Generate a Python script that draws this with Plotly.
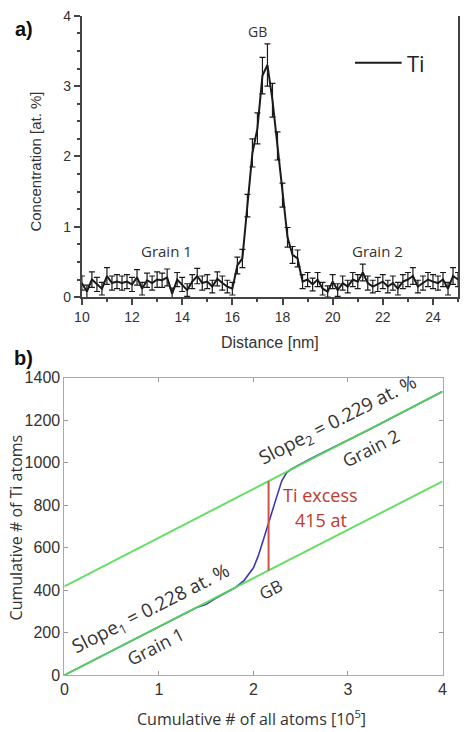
import plotly.graph_objects as go

# ---- Panel a: Ti concentration profile ----
distance_nm = [10.0, 10.2, 10.4, 10.6, 10.8, 11.0, 11.2, 11.4, 11.6, 11.8,
               12.0, 12.2, 12.4, 12.6, 12.8, 13.0, 13.2, 13.4, 13.6, 13.8,
               14.0, 14.2, 14.4, 14.6, 14.8, 15.0, 15.2, 15.4, 15.6, 15.8,
               16.0, 16.2, 16.4, 16.6, 16.8, 17.0, 17.2, 17.4, 17.6, 17.8,
               18.0, 18.2, 18.4, 18.6, 18.8, 19.0, 19.2, 19.4, 19.6, 19.8,
               20.0, 20.2, 20.4, 20.6, 20.8, 21.0, 21.2, 21.4, 21.6, 21.8,
               22.0, 22.2, 22.4, 22.6, 22.8, 23.0, 23.2, 23.4, 23.6, 23.8,
               24.0, 24.2, 24.4, 24.6, 24.8, 25.0]
ti_conc = [0.20, 0.08, 0.25, 0.18, 0.12, 0.30, 0.20, 0.22, 0.20, 0.22,
           0.18, 0.28, 0.12, 0.24, 0.20, 0.25, 0.24, 0.28, 0.05, 0.25,
           0.18, 0.10, 0.22, 0.30, 0.20, 0.22, 0.15, 0.26, 0.20, 0.15,
           0.12, 0.45, 0.55, 1.30, 2.05, 2.40, 3.15, 3.30, 2.80, 2.15,
           1.45, 0.85, 0.60, 0.55, 0.22, 0.25, 0.18, 0.25, 0.12, 0.08,
           0.22, 0.10, 0.20, 0.15, 0.25, 0.22, 0.35, 0.20, 0.15, 0.18,
           0.22, 0.15, 0.20, 0.12, 0.22, 0.25, 0.30, 0.15, 0.20, 0.25,
           0.22, 0.20, 0.25, 0.12, 0.30, 0.25]
ti_err = [0.10, 0.09, 0.11, 0.10, 0.09, 0.12, 0.10, 0.10, 0.10, 0.10,
          0.10, 0.11, 0.09, 0.10, 0.10, 0.11, 0.10, 0.12, 0.08, 0.10,
          0.10, 0.09, 0.10, 0.11, 0.10, 0.10, 0.09, 0.10, 0.10, 0.09,
          0.09, 0.12, 0.13, 0.16, 0.20, 0.22, 0.26, 0.30, 0.24, 0.20,
          0.17, 0.14, 0.12, 0.12, 0.10, 0.10, 0.09, 0.10, 0.09, 0.08,
          0.10, 0.09, 0.10, 0.09, 0.10, 0.10, 0.12, 0.10, 0.09, 0.10,
          0.10, 0.09, 0.10, 0.09, 0.10, 0.10, 0.12, 0.09, 0.10, 0.10,
          0.10, 0.10, 0.10, 0.09, 0.12, 0.10]

# ---- Panel b: cumulative (ladder) plot ----
all_atoms_1e5 = [0.0, 0.2, 0.4, 0.6, 0.8, 1.0, 1.2, 1.4, 1.5, 1.6, 1.8, 1.9,
                 2.0, 2.05, 2.1, 2.15, 2.2, 2.25, 2.3, 2.35, 2.4, 2.5, 2.6,
                 2.8, 3.0, 3.2, 3.4, 3.6, 3.8, 4.0]
ti_atoms_cum = [0, 45, 90, 135, 183, 228, 272, 318, 333, 362, 410, 445,
                505, 560, 630, 705, 775, 845, 915, 952, 970, 995, 1018,
                1062, 1105, 1150, 1196, 1242, 1290, 1335]
fit1_x = [0.0, 4.0]
fit1_y = [0, 912]
fit2_x = [0.0, 4.0]
fit2_y = [418, 1334]
excess_x = [2.16, 2.16]
excess_y = [493, 913]

W, H = 465, 732
def px(x):
    return x / W
def py(y):
    return 1 - y / H

fig = go.Figure()

fig.add_trace(go.Scatter(
    x=distance_nm, y=ti_conc, mode="lines", name="Ti",
    line=dict(color="#1a1a1a", width=2),
    error_y=dict(type="data", array=ti_err, visible=True, color="#1a1a1a",
                 thickness=1.2, width=3),
    xaxis="x", yaxis="y", showlegend=False, cliponaxis=True))

fig.add_trace(go.Scatter(
    x=all_atoms_1e5, y=ti_atoms_cum, mode="lines", line=dict(color="#3a3ab8", width=1.6),
    xaxis="x2", yaxis="y2", showlegend=False))
fig.add_trace(go.Scatter(
    x=fit1_x, y=fit1_y, mode="lines", line=dict(color="rgba(85,218,85,0.9)", width=2),
    xaxis="x2", yaxis="y2", showlegend=False))
fig.add_trace(go.Scatter(
    x=fit2_x, y=fit2_y, mode="lines", line=dict(color="rgba(85,218,85,0.9)", width=2),
    xaxis="x2", yaxis="y2", showlegend=False))
fig.add_trace(go.Scatter(
    x=excess_x, y=excess_y, mode="lines", line=dict(color="#d0504a", width=2),
    xaxis="x2", yaxis="y2", showlegend=False))

axc = "#444444"
tickfont = dict(family="Arial, Liberation Sans", size=14, color="#333333")
fig.update_layout(
    width=W, height=H, margin=dict(l=0, r=0, t=0, b=0),
    paper_bgcolor="white", plot_bgcolor="white",
    showlegend=False,
    xaxis=dict(domain=[px(76), px(463)], range=[10, 25], anchor="y",
               tickvals=[10, 12, 14, 16, 18, 20, 22, 24],
               ticks="outside", ticklen=6, tickwidth=1.5, tickcolor=axc,
               minor=dict(ticks="outside", tickvals=[11, 13, 15, 17, 19, 21, 23, 25],
                          ticklen=3, tickcolor=axc),
               showline=True, linecolor=axc, linewidth=2, showgrid=False,
               zeroline=False, tickfont=tickfont),
    yaxis=dict(domain=[py(296), py(8)], range=[0, 4], anchor="x",
               tickvals=[0, 1, 2, 3, 4], ticks="outside", ticklen=6, tickwidth=1.5,
               tickcolor=axc,
               minor=dict(ticks="outside", dtick=0.25, ticklen=3, tickcolor=axc),
               showline=True, linecolor=axc, linewidth=2, mirror=True,
               showgrid=False, zeroline=False, tickfont=tickfont),
    xaxis2=dict(domain=[px(58), px(447)], range=[0, 4], anchor="y2", dtick=1,
                ticks="inside", ticklen=4, tickcolor="#999", mirror="ticks",
                showline=True, linecolor="#aaaaaa", linewidth=1, showgrid=False,
                zeroline=False,
                tickfont=dict(family="Arial, Liberation Sans", size=16, color="#333")),
    yaxis2=dict(domain=[py(683), py(378.5)], range=[0, 1400], anchor="x2", dtick=200,
                ticks="inside", ticklen=4, tickcolor="#999", mirror="ticks",
                showline=True, linecolor="#aaaaaa", linewidth=1, showgrid=False,
                zeroline=False,
                tickfont=dict(family="Arial, Liberation Sans", size=16, color="#333")),
)

# legend-like key for the Ti profile
fig.add_shape(type="line", xref="paper", yref="paper",
              x0=px(357), x1=px(405), y0=py(56), y1=py(56),
              line=dict(color="#1a1a1a", width=2))

def ann(text, x, y, size=14, color="#333333", angle=0, family="Open Sans",
        bold=False, xanchor="center"):
    fig.add_annotation(text=("<b>%s</b>" % text) if bold else text,
                       x=px(x), y=py(y), xref="paper", yref="paper",
                       showarrow=False, textangle=angle,
                       font=dict(family=family, size=size, color=color),
                       xanchor=xanchor, yanchor="middle")

ann("Ti", 408, 56, size=22, color="#222", xanchor="left")
ann("a)", 16, 22, size=20, color="#111", family="Arial", bold=True)
ann("b)", 16, 358, size=20, color="#111", family="Arial", bold=True)
ann("Concentration [at. %]", 28, 157, size=15, color="#333", angle=-90, family="Arial")
ann("Distance [nm]", 270, 342, size=16, color="#333", family="Arial")
ann("GB", 257, 24, size=14)
ann("Grain 1", 163, 249, size=15)
ann("Grain 2", 380, 249, size=15)

ann("Cumulative # of Ti atoms", 8, 532, size=16, color="#333", angle=-90)
ann("Cumulative # of all atoms [10<sup>5</sup>]", 250, 727, size=16, color="#333")
ann("Slope<sub>2</sub> = 0.229 at. %", 340, 422, size=19, color="#333", angle=-27)
ann("Grain 2", 373, 450, size=18, color="#333", angle=-27)
ann("Ti excess", 322, 499, size=18, color="#c0392b")
ann("415 at", 322, 524, size=18, color="#c0392b")
ann("GB", 270, 595, size=17, color="#333", angle=-27)
ann("Slope<sub>1</sub> = 0.228 at. %", 147, 615, size=19, color="#333", angle=-27)
ann("Grain 1", 152, 653, size=18, color="#333", angle=-27)

fig.write_html("out.html")
